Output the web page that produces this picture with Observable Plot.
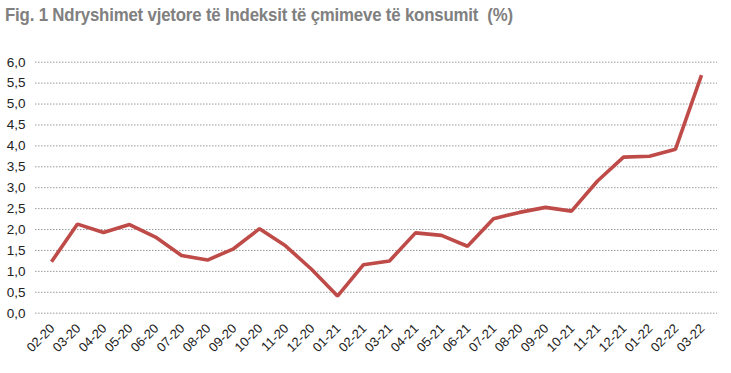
<!DOCTYPE html>
<html>
<head>
<meta charset="utf-8">
<script src="https://cdn.jsdelivr.net/npm/d3@7"></script>
<script src="https://cdn.jsdelivr.net/npm/@observablehq/plot@0.6"></script>
<style>
  html, body { margin: 0; padding: 0; background: #fff; }
  #title { height: 40px; box-sizing: border-box; padding: 5px 0 0 5px; }
  #title span { display: inline-block; transform: scaleX(0.935); transform-origin: 0 0;
    font-family: "Liberation Sans", Arial, sans-serif;
    font-weight: bold; font-size: 18px; color: #808080; letter-spacing: -0.2px; white-space: nowrap; }
</style>
</head>
<body>
<div id="title"><span>Fig. 1 Ndryshimet vjetore të Indeksit të çmimeve të konsumit&nbsp; (%)</span></div>
<div id="chart"></div>
<script>
const months = ["2020-02","2020-03","2020-04","2020-05","2020-06","2020-07","2020-08","2020-09","2020-10","2020-11","2020-12","2021-01","2021-02","2021-03","2021-04","2021-05","2021-06","2021-07","2021-08","2021-09","2021-10","2021-11","2021-12","2022-01","2022-02","2022-03"];
const tickLabels = ["02-20","03-20","04-20","05-20","06-20","07-20","08-20","09-20","10-20","11-20","12-20","01-21","02-21","03-21","04-21","05-21","06-21","07-21","08-20","09-20","10-21","11-21","12-21","01-22","02-22","03-22"];
const values = [1.23,2.13,1.93,2.12,1.82,1.38,1.27,1.54,2.02,1.61,1.05,0.41,1.16,1.25,1.92,1.86,1.60,2.26,2.41,2.53,2.44,3.16,3.73,3.75,3.92,5.69];
const yTicks = [0,0.5,1,1.5,2,2.5,3,3.5,4,4.5,5,5.5,6];

const data = months.map((m, i) => ({month: m, value: values[i]}));
const labelOf = new Map(months.map((m, i) => [m, tickLabels[i]]));

const chart = Plot.plot({
  width: 731,
  height: 333,
  marginTop: 21.7,
  marginBottom: 60.3,
  marginLeft: 35,
  marginRight: 14,
  style: {fontFamily: "'Liberation Sans', Arial, sans-serif", color: "#222", background: "#fff"},
  x: {type: "point", domain: months, padding: 0.5, label: null},
  y: {domain: [0, 6], label: null},
  marks: [
    Plot.ruleY(yTicks, {stroke: "#9a9a9a", strokeWidth: 1, strokeDasharray: "1.5,1.5"}),
    Plot.axisY(yTicks, {tickSize: 0, tickPadding: 10, fontSize: 13.5, tickFormat: d => d.toFixed(1).replace(".", ","), label: null}),
    Plot.axisX({tickSize: 0, tickPadding: 13, tickRotate: -45, fontSize: 13, dx: 1, tickFormat: d => labelOf.get(d), label: null}),
    Plot.line(data, {x: "month", y: "value", stroke: "#bf4b48", strokeWidth: 3.6, strokeLinejoin: "miter", strokeLinecap: "butt"})
  ]
});
document.getElementById("chart").appendChild(chart);
</script>
</body>
</html>
